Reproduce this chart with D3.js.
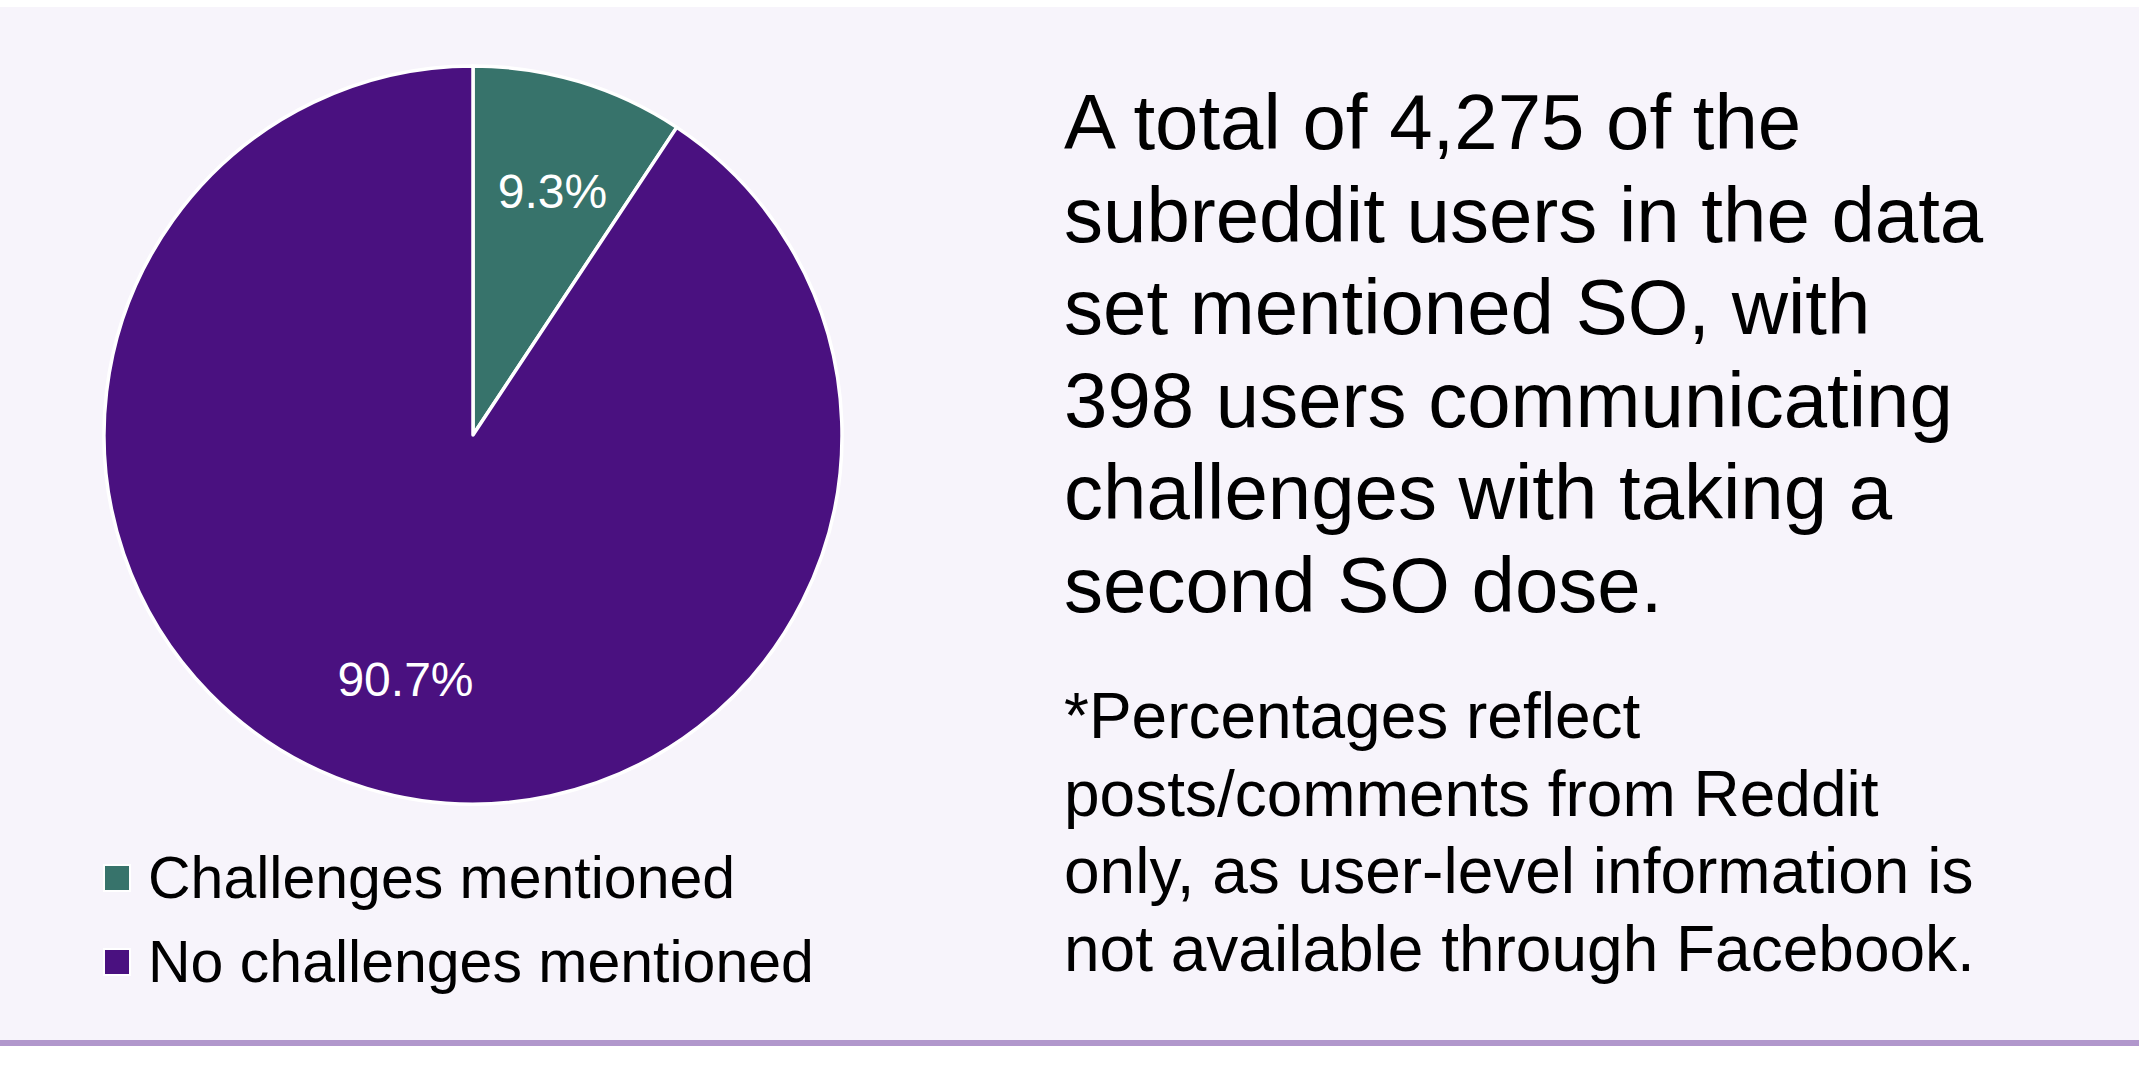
<!DOCTYPE html>
<html>
<head>
<meta charset="utf-8">
<script src="https://cdn.jsdelivr.net/npm/d3@7"></script>
<style>
  body { margin: 0; background: #ffffff; }
  svg text { font-family: "Liberation Sans", Arial, Helvetica, sans-serif; }
</style>
</head>
<body>
<div id="chart"></div>
<script>

// data
var categories = ["Challenges mentioned", "No challenges mentioned"]
var users = [398, 3877]   // 4,275 total, 398 with challenges
var colors = ["#37736b", "#4a1180"]

var headline = [
  "A total of 4,275 of the",
  "subreddit users in the data",
  "set mentioned SO, with",
  "398 users communicating",
  "challenges with taking a",
  "second SO dose."
]
var footnote = [
  "*Percentages reflect",
  "posts/comments from Reddit",
  "only, as user-level information is",
  "not available through Facebook."
]

var width = 2144
var height = 1076

var svg = d3.select("#chart")
  .append("svg")
  .attr("width", width)
  .attr("height", height)

// panel background + bottom rule
svg.append("rect")
  .attr("x", 0).attr("y", 7)
  .attr("width", 2139).attr("height", 1034)
  .attr("fill", "#f7f4fb")

svg.append("rect")
  .attr("x", 0).attr("y", 1040)
  .attr("width", 2139).attr("height", 6)
  .attr("fill", "#b197cc")

// pie
var cx = 473, cy = 435, radius = 369
var total = d3.sum(users)
var fmt = d3.format(".1%")

var pie = d3.pie().sort(null).value(function(d){ return d })
var arc = d3.arc().innerRadius(0).outerRadius(radius)
var labelArc = d3.arc().innerRadius(255).outerRadius(255)

var g = svg.append("g").attr("transform", "translate(" + cx + "," + cy + ")")

var slices = g.selectAll("g.slice")
  .data(pie(users))
  .enter()
  .append("g")
  .attr("class", "slice")

slices.append("path")
  .attr("d", arc)
  .attr("fill", function(d, i){ return colors[i] })
  .attr("stroke", "#ffffff")
  .attr("stroke-width", 3.5)
  .attr("stroke-linejoin", "round")

slices.append("text")
  .attr("transform", function(d){ return "translate(" + labelArc.centroid(d) + ")" })
  .attr("dx", 6)
  .attr("dy", "0.36em")
  .attr("text-anchor", "middle")
  .attr("fill", "#ffffff")
  .style("font-size", "48px")
  .text(function(d){ return fmt(d.value / total) })

// legend
var legend = svg.append("g").attr("transform", "translate(104,865)")

var items = legend.selectAll("g")
  .data(categories)
  .enter()
  .append("g")
  .attr("transform", function(d, i){ return "translate(0," + (i * 84) + ")" })

items.append("rect")
  .attr("width", 26).attr("height", 26)
  .attr("fill", function(d, i){ return colors[i] })
  .attr("stroke", "#ffffff")
  .attr("stroke-width", 2)

items.append("text")
  .attr("x", 44)
  .attr("y", 33)
  .style("font-size", "59px")
  .attr("fill", "#000000")
  .text(function(d){ return d })

// right-hand text
svg.append("g")
  .selectAll("text")
  .data(headline)
  .enter()
  .append("text")
  .attr("x", 1064)
  .attr("y", function(d, i){ return 149 + i * 92.6 })
  .style("font-size", "78px")
  .attr("fill", "#000000")
  .text(function(d){ return d })

svg.append("g")
  .selectAll("text")
  .data(footnote)
  .enter()
  .append("text")
  .attr("x", 1064)
  .attr("y", function(d, i){ return 738 + i * 77.7 })
  .style("font-size", "64px")
  .attr("fill", "#000000")
  .text(function(d){ return d })

</script>
</body>
</html>
